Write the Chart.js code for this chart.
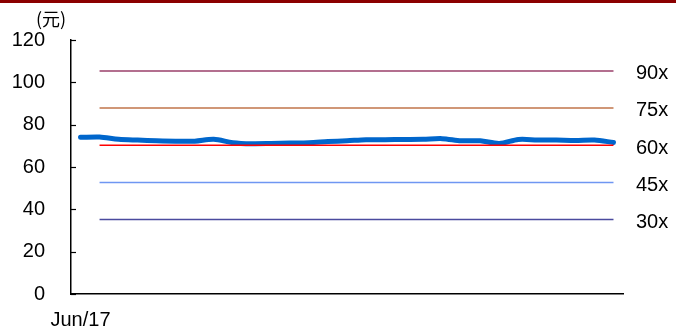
<!DOCTYPE html>
<html>
<head>
<meta charset="utf-8">
<script src="https://cdn.jsdelivr.net/npm/chart.js@4/dist/chart.umd.min.js"></script>
<style>
html,body{margin:0;padding:0;background:#fff;}
#wrap{position:relative;width:676px;height:332px;}
#topbar{position:absolute;left:0;top:0;width:676px;height:3px;background:#8B0000;}
canvas{position:absolute;left:0;top:0;}
</style>
</head>
<body>
<div id="wrap">
<canvas id="c" width="676" height="332"></canvas>
<div id="topbar"></div>
</div>
<script>
// Categories (monthly, starting Jun/17)
const categories = ['Jun/17','Jul/17','Aug/17','Sep/17','Oct/17','Nov/17','Dec/17','Jan/18','Feb/18','Mar/18','Apr/18','May/18','Jun/18','Jul/18','Aug/18','Sep/18','Oct/18','Nov/18','Dec/18','Jan/19','Feb/19','Mar/19','Apr/19','May/19','Jun/19','Jul/19','Aug/19','Sep/19','Oct/19'];
// Share price (元)
const price = [74.0,74.2,73.1,72.7,72.4,72.2,72.2,73.1,71.5,71.0,71.1,71.3,71.5,72.0,72.4,72.9,72.9,73.0,73.1,73.4,72.4,72.4,71.1,73.0,72.8,72.7,72.5,72.7,71.6];
// PE band levels
const bandNames = ['90x','75x','60x','45x','30x'];
const bandLevels = [105.4, 87.9, 70.3, 52.7, 35.2];
const bandColors = ['#9A3F6A','#C0744A','#FF0000','#6F96F2','#4A4A9E'];
const yTicks = [0,20,40,60,80,100,120];

const font = "'Liberation Sans', Arial, sans-serif";

const bandSets = bandLevels.map((v,k)=>({
  label: bandNames[k],
  data: categories.map((_,i)=> i===0 ? null : v),
  borderColor: bandColors[k],
  borderWidth: 1.5,
  pointRadius: 0,
  fill: false,
  tension: 0
}));

const decor = {
  id:'decor',
  afterDraw(chart){
    const ctx = chart.ctx, y = chart.scales.y, ca = chart.chartArea;
    ctx.save();
    // inner tick marks on y axis
    ctx.strokeStyle = '#000'; ctx.lineWidth = 1.2;
    yTicks.forEach(t=>{
      const py = Math.round(y.getPixelForValue(t))+0.5;
      ctx.beginPath(); ctx.moveTo(ca.left, py); ctx.lineTo(ca.left+5, py); ctx.stroke();
    });
    // band labels on the right
    ctx.fillStyle = '#000';
    ctx.font = "20px " + font;
    ctx.textAlign = 'left'; ctx.textBaseline = 'middle';
    bandLevels.forEach((v,k)=>{
      ctx.fillText(bandNames[k], 636, y.getPixelForValue(v)+3);
    });
    // unit label
    ctx.font = "18px 'Noto Sans CJK SC', sans-serif";
    ctx.textAlign = 'left';
    ctx.fillText('(元)', 36, 19);
    ctx.restore();
  }
};

new Chart(document.getElementById('c'), {
  type:'line',
  data:{
    labels: categories,
    datasets: [
      ...bandSets,
      { label:'股价', data: price, borderColor:'#0066CC', borderWidth:5, pointRadius:0, fill:false, tension:0.3, borderCapStyle:'round', borderJoinStyle:'round' }
    ]
  },
  options:{
    responsive:false,
    animation:false,
    devicePixelRatio:1,
    layout:{padding:{left:0,right:53,top:40,bottom:0}},
    plugins:{legend:{display:false},tooltip:{enabled:false}},
    scales:{
      x:{
        offset:true,
        grid:{display:false, drawTicks:false},
        border:{color:'#000', width:1.5},
        ticks:{
          autoSkip:false, maxRotation:0, padding:14, color:'#000',
          font:{family:font,size:20},
          callback:(v,i)=> i===0 ? categories[i] : ''
        },
        afterFit(s){ s.height = 36; }
      },
      y:{
        min:0,max:120,
        grid:{display:false, drawTicks:false},
        border:{color:'#000', width:1.5},
        ticks:{stepSize:20, padding:26, color:'#000', font:{family:font,size:20}},
        afterFit(s){ s.width = 71; }
      }
    }
  },
  plugins:[decor]
});
</script>
</body>
</html>
